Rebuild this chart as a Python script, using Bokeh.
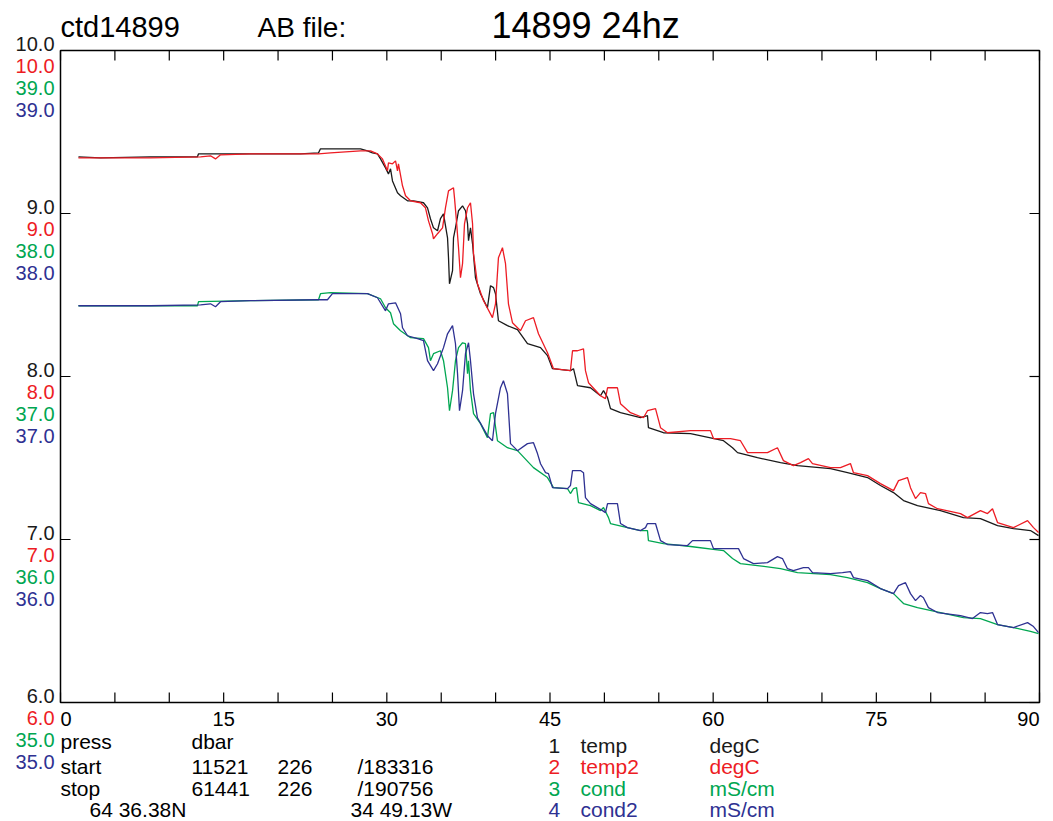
from bokeh.plotting import figure
from bokeh.models import Range1d
from bokeh.core.properties import value
from bokeh.embed import file_html
from bokeh.resources import INLINE

# ---- data (pressure in dbar) ----
press_temp = [1.65, 3.68, 8.27, 12.59, 12.69, 17.47, 22.06, 23.72, 23.90, 27.58, 28.22, 28.68, 29.14,
              29.42, 29.88, 30.15, 30.34, 30.52, 30.98, 31.26, 31.90, 32.45, 33.37, 33.74, 34.01, 34.29,
              34.66, 34.93, 35.21, 35.58, 35.67, 35.76, 36.04, 36.13, 36.31, 36.59, 36.96, 37.23, 37.42,
              37.51, 37.69, 37.88, 38.15, 38.61, 39.25, 39.53, 39.81, 39.99, 40.26, 41.09, 42.01, 42.93,
              44.13, 44.77, 45.23, 46.88, 47.16, 47.53, 48.72, 49.64, 49.92, 50.29, 50.56, 51.48, 53.32,
              53.96, 54.05, 55.43, 57.92, 60.95, 61.78, 62.24, 64.07, 66.19, 67.75, 70.79, 72.35, 74.19,
              75.38, 76.58, 77.50, 78.78, 80.90, 83.01, 84.57, 86.14, 87.61, 89.17, 89.91]
temp = [9.348, 9.341, 9.348, 9.348, 9.366, 9.366, 9.366, 9.372, 9.397, 9.397, 9.384, 9.372, 9.366,
        9.335, 9.280, 9.243, 9.274, 9.200, 9.127, 9.109, 9.078, 9.078, 9.066, 9.035, 8.968, 8.912,
        8.894, 8.968, 8.998, 8.851, 8.728, 8.569, 8.649, 8.851, 8.912, 9.017, 9.047, 9.017, 8.937,
        8.833, 8.912, 8.814, 8.606, 8.508, 8.422, 8.557, 8.545, 8.508, 8.342, 8.312, 8.287, 8.201,
        8.177, 8.128, 8.048, 8.036, 8.048, 7.944, 7.931, 7.882, 7.913, 7.870, 7.803, 7.778, 7.747,
        7.760, 7.686, 7.655, 7.649, 7.606, 7.563, 7.533, 7.502, 7.472, 7.453, 7.435, 7.410, 7.380,
        7.331, 7.288, 7.239, 7.208, 7.177, 7.134, 7.128, 7.085, 7.067, 7.055, 7.024]

press_temp2 = [1.65, 8.27, 12.87, 13.79, 14.25, 14.71, 17.47, 23.72, 24.82, 27.58, 28.50, 29.14, 29.60,
               30.06, 30.15, 30.52, 30.80, 30.98, 31.07, 31.44, 31.72, 32.18, 33.09, 33.55, 33.83, 34.20,
               34.29, 34.66, 35.12, 35.39, 35.67, 36.13, 36.22, 36.40, 36.59, 36.77, 36.96, 37.14, 37.42,
               37.69, 37.88, 37.97, 38.33, 38.89, 39.71, 39.99, 40.26, 40.63, 40.91, 41.18, 41.55, 42.29,
               42.75, 43.48, 43.94, 44.77, 45.32, 46.88, 47.07, 47.53, 48.08, 48.26, 48.54, 49.64, 50.10,
               50.29, 51.20, 51.48, 52.40, 53.59, 53.96, 54.70, 55.16, 55.80, 57.92, 59.75, 60.03, 61.59,
               62.51, 63.16, 64.99, 65.91, 66.46, 67.38, 68.03, 68.76, 69.13, 70.79, 71.70, 72.62, 72.90,
               74.19, 75.38, 76.58, 77.04, 77.86, 78.14, 78.60, 79.06, 79.52, 79.79, 80.62, 82.74, 83.38,
               84.57, 85.22, 85.68, 86.14, 87.61, 88.90, 89.45, 89.91]
temp2 = [9.341, 9.341, 9.348, 9.354, 9.335, 9.360, 9.366, 9.366, 9.372, 9.384, 9.384, 9.366, 9.335,
         9.262, 9.311, 9.305, 9.323, 9.262, 9.305, 9.170, 9.109, 9.078, 9.066, 9.035, 8.955, 8.876,
         8.845, 8.876, 8.912, 9.035, 9.139, 9.158, 9.096, 8.955, 8.790, 8.606, 8.692, 8.937, 9.035,
         9.066, 8.937, 8.753, 8.569, 8.465, 8.361, 8.446, 8.728, 8.790, 8.692, 8.446, 8.330, 8.281,
         8.342, 8.361, 8.262, 8.146, 8.048, 8.036, 8.158, 8.158, 8.170, 8.036, 7.962, 7.882, 7.864,
         7.931, 7.931, 7.833, 7.778, 7.747, 7.790, 7.803, 7.686, 7.655, 7.668, 7.668, 7.619, 7.619,
         7.606, 7.533, 7.533, 7.563, 7.484, 7.453, 7.472, 7.496, 7.466, 7.441, 7.441, 7.466, 7.410,
         7.392, 7.343, 7.300, 7.361, 7.380, 7.318, 7.251, 7.288, 7.282, 7.220, 7.189, 7.159, 7.134,
         7.177, 7.159, 7.189, 7.104, 7.073, 7.116, 7.073, 7.043]

press_cond = [1.65, 8.27, 12.59, 12.69, 17.47, 23.72, 23.90, 24.82, 28.22, 29.42, 29.88, 30.34, 30.61,
              31.26, 32.18, 33.37, 33.83, 34.01, 34.29, 34.93, 35.21, 35.58, 35.76, 36.04, 36.31, 36.59,
              36.96, 37.23, 37.42, 37.51, 37.69, 37.97, 38.61, 39.25, 39.53, 39.81, 40.17, 41.09, 42.01,
              43.48, 44.77, 45.32, 46.61, 46.88, 47.16, 47.44, 47.62, 48.72, 49.64, 49.92, 50.38, 50.56,
              52.12, 53.32, 53.96, 54.05, 55.43, 57.92, 60.95, 61.78, 62.51, 64.07, 66.19, 67.75, 70.79,
              72.35, 74.19, 75.38, 76.58, 77.50, 78.78, 80.90, 83.01, 84.57, 86.14, 87.61, 89.17, 89.91]
cond = [37.434, 37.434, 37.434, 37.459, 37.465, 37.471, 37.508, 37.514, 37.508, 37.477, 37.422, 37.391,
        37.324, 37.281, 37.238, 37.232, 37.177, 37.097, 37.140, 37.158, 37.097, 36.931, 36.790, 36.913,
        37.097, 37.177, 37.207, 37.201, 37.017, 37.097, 36.913, 36.772, 36.711, 36.625, 36.772, 36.778,
        36.606, 36.563, 36.545, 36.441, 36.380, 36.318, 36.312, 36.282, 36.312, 36.318, 36.226, 36.208,
        36.177, 36.196, 36.134, 36.098, 36.073, 36.055, 36.055, 35.993, 35.975, 35.957, 35.932, 35.883,
        35.852, 35.840, 35.821, 35.797, 35.785, 35.766, 35.735, 35.699, 35.668, 35.607, 35.582, 35.552,
        35.521, 35.515, 35.478, 35.460, 35.436, 35.423]

press_cond2 = [1.65, 8.27, 12.87, 13.79, 14.25, 14.71, 17.47, 23.72, 24.54, 25.00, 28.22, 29.14, 29.88,
               30.15, 30.80, 31.26, 31.44, 31.90, 32.82, 33.37, 33.74, 34.29, 34.66, 35.21, 35.58, 36.04,
               36.31, 36.50, 36.68, 36.96, 37.23, 37.51, 37.69, 37.97, 38.33, 39.25, 39.71, 39.99, 40.45,
               40.72, 41.09, 41.37, 42.01, 42.93, 43.48, 43.85, 44.13, 44.59, 44.86, 45.23, 46.61, 46.88,
               47.07, 47.80, 48.08, 48.26, 48.72, 49.83, 50.10, 50.29, 51.20, 51.48, 52.12, 53.32, 53.78,
               53.96, 54.70, 55.16, 55.80, 57.64, 58.10, 59.75, 60.03, 62.33, 62.79, 63.71, 64.99, 65.91,
               66.37, 66.83, 67.38, 68.30, 68.76, 69.13, 70.79, 71.89, 72.62, 72.90, 74.19, 75.38, 76.58,
               77.04, 77.68, 78.14, 78.60, 79.06, 79.33, 79.79, 80.62, 82.74, 83.84, 84.57, 85.22, 85.68,
               86.14, 87.61, 88.90, 89.45, 89.91]
cond2 = [37.434, 37.434, 37.440, 37.446, 37.428, 37.459, 37.465, 37.471, 37.471, 37.508, 37.508, 37.483,
         37.403, 37.446, 37.452, 37.385, 37.299, 37.250, 37.232, 37.220, 37.097, 37.036, 37.078, 37.177,
         37.262, 37.312, 37.201, 37.017, 36.790, 36.913, 37.140, 37.207, 37.097, 36.894, 36.747, 36.637,
         36.606, 36.772, 36.931, 36.974, 36.894, 36.588, 36.545, 36.588, 36.594, 36.527, 36.465, 36.410,
         36.404, 36.318, 36.312, 36.331, 36.423, 36.423, 36.410, 36.257, 36.220, 36.177, 36.165, 36.220,
         36.220, 36.098, 36.073, 36.055, 36.073, 36.098, 36.098, 35.993, 35.969, 35.963, 35.993, 35.993,
         35.944, 35.944, 35.883, 35.852, 35.858, 35.895, 35.883, 35.821, 35.809, 35.828, 35.828, 35.797,
         35.791, 35.797, 35.803, 35.766, 35.748, 35.699, 35.668, 35.717, 35.735, 35.668, 35.625, 35.656,
         35.643, 35.582, 35.552, 35.533, 35.515, 35.552, 35.545, 35.552, 35.478, 35.460, 35.490, 35.466,
         35.429]

x_ticks = [0, 5, 10, 15, 20, 25, 30, 35, 40, 45, 50, 55, 60, 65, 70, 75, 80, 85, 90]
x_label_ticks = [0, 15, 30, 45, 60, 75, 90]
temp_ticks = [6.0, 7.0, 8.0, 9.0, 10.0]
cond_ticks = [35.0, 36.0, 37.0, 38.0, 39.0]

title_left = "ctd14899"
title_mid = "AB file:"
title_main = "14899 24hz"
info_rows = [
    ["press", "dbar", "", ""],
    ["start", "11521", "226", "/183316"],
    ["stop", "61441", "226", "/190756"],
]
position_lat = "64 36.38N"
position_lon = "34 49.13W"
legend_nums = ["1", "2", "3", "4"]
legend_names = ["temp", "temp2", "cond", "cond2"]
legend_units = ["degC", "degC", "mS/cm", "mS/cm"]

BLACK = "#1a1a1a"
RED = "#ed1c24"
GREEN = "#00a651"
BLUE = "#2e3192"
series_colors = [BLACK, RED, GREEN, BLUE]
FONT = "Liberation Sans"

# ---- layout: the frame covers the whole canvas; the data box sits inside with pixel padding ----
W, H = 1053, 821
PAD_L, PAD_R, PAD_T, PAD_B = 60, 14, 50, 119
x0, x1 = x_ticks[0], x_ticks[-1]
t0, t1 = temp_ticks[0], temp_ticks[-1]
c0, c1 = cond_ticks[0], cond_ticks[-1]
sx = (W - PAD_L - PAD_R) / (x1 - x0)      # px per dbar
sy = (H - PAD_T - PAD_B) / (t1 - t0)      # px per unit

p = figure(width=W, height=H,
           x_range=Range1d(x0 - PAD_L / sx, x1 + PAD_R / sx),
           y_range=Range1d(t0 - PAD_B / sy, t1 + PAD_T / sy),
           output_backend="svg", toolbar_location=None,
           x_axis_type=None, y_axis_type=None,
           min_border=0, min_border_left=0, min_border_right=0, min_border_top=0, min_border_bottom=0)
p.extra_y_ranges = {"cond": Range1d(c0 - PAD_B / sy, c1 + PAD_T / sy)}
p.outline_line_color = None
p.grid.visible = False
p.background_fill_color = "white"
p.border_fill_color = "white"

# plot box
p.quad(left=[x0], right=[x1], bottom=[t0], top=[t1], fill_color=None,
       line_color="black", line_width=1.5)

# inward ticks on all four sides
TICK = 10
tk = dict(line_color="black", line_width=1.2)
p.segment(x0=x_ticks, y0=[t0] * len(x_ticks), x1=x_ticks, y1=[t0 + TICK / sy] * len(x_ticks), **tk)
p.segment(x0=x_ticks, y0=[t1] * len(x_ticks), x1=x_ticks, y1=[t1 - TICK / sy] * len(x_ticks), **tk)
p.segment(x0=[x0] * len(temp_ticks), y0=temp_ticks, x1=[x0 + TICK / sx] * len(temp_ticks), y1=temp_ticks, **tk)
p.segment(x0=[x1] * len(temp_ticks), y0=temp_ticks, x1=[x1 - TICK / sx] * len(temp_ticks), y1=temp_ticks, **tk)

# series
lw = 1.3
p.line(press_temp, temp, line_color=BLACK, line_width=lw)
p.line(press_temp2, temp2, line_color=RED, line_width=lw)
p.line(press_cond, cond, line_color=GREEN, line_width=lw, y_range_name="cond")
p.line(press_cond2, cond2, line_color=BLUE, line_width=lw, y_range_name="cond")

def txt(texts, xs, ys, xo, yo, color, size, align="left", rng="default"):
    n = len(texts)
    p.text(x=xs, y=ys, text=texts, x_offset=xo if isinstance(xo, list) else [xo] * n,
           y_offset=yo if isinstance(yo, list) else [yo] * n,
           text_color=color, text_font=value(FONT), text_font_size=value(size),
           text_align=align, text_baseline="middle", y_range_name=rng)

# stacked y tick labels
txt([f"{v:.1f}" for v in temp_ticks], [x0] * 5, temp_ticks, -6, -7, BLACK, "20px", "right")
txt([f"{v:.1f}" for v in temp_ticks], [x0] * 5, temp_ticks, -6, 15, RED, "20px", "right")
txt([f"{c:.1f}" for c in cond_ticks], [x0] * 5, cond_ticks, -6, 37, GREEN, "20px", "right", "cond")
txt([f"{c:.1f}" for c in cond_ticks], [x0] * 5, cond_ticks, -6, 59, BLUE, "20px", "right", "cond")

# x tick labels
txt([str(x_label_ticks[0])], [x_label_ticks[0]], [t0], 0, 16, "black", "20px", "left")
txt([str(t) for t in x_label_ticks[1:-1]], x_label_ticks[1:-1], [t0] * 5, 0, 16, "black", "20px", "center")
txt([str(x_label_ticks[-1])], [x_label_ticks[-1]], [t0], 0, 16, "black", "20px", "right")

# titles
txt([title_left], [x0], [t1], 0, -24, "black", "29px")
txt([title_mid], [x0], [t1], 197, -23, "black", "28px")
txt([title_main], [x0], [t1], 431, -25, "black", "36px")

# info block
col_off = [0, 131, 217, 297]
row_off = [39, 64, 86]
it, io, ir = [], [], []
for r, row in enumerate(info_rows):
    for c, s in enumerate(row):
        if s:
            it.append(s); io.append(col_off[c]); ir.append(row_off[r])
it += [position_lat, position_lon]; io += [29, 290]; ir += [107, 107]
txt(it, [x0] * len(it), [t0] * len(it), io, ir, "black", "21px")

# legend block
leg_rows = [43, 64, 86, 107]
for i in range(4):
    txt([legend_nums[i], legend_names[i], legend_units[i]], [x0] * 3, [t0] * 3,
        [488, 520, 649], leg_rows[i], series_colors[i], "21px")

open("out.html", "w").write(file_html(p, INLINE))
